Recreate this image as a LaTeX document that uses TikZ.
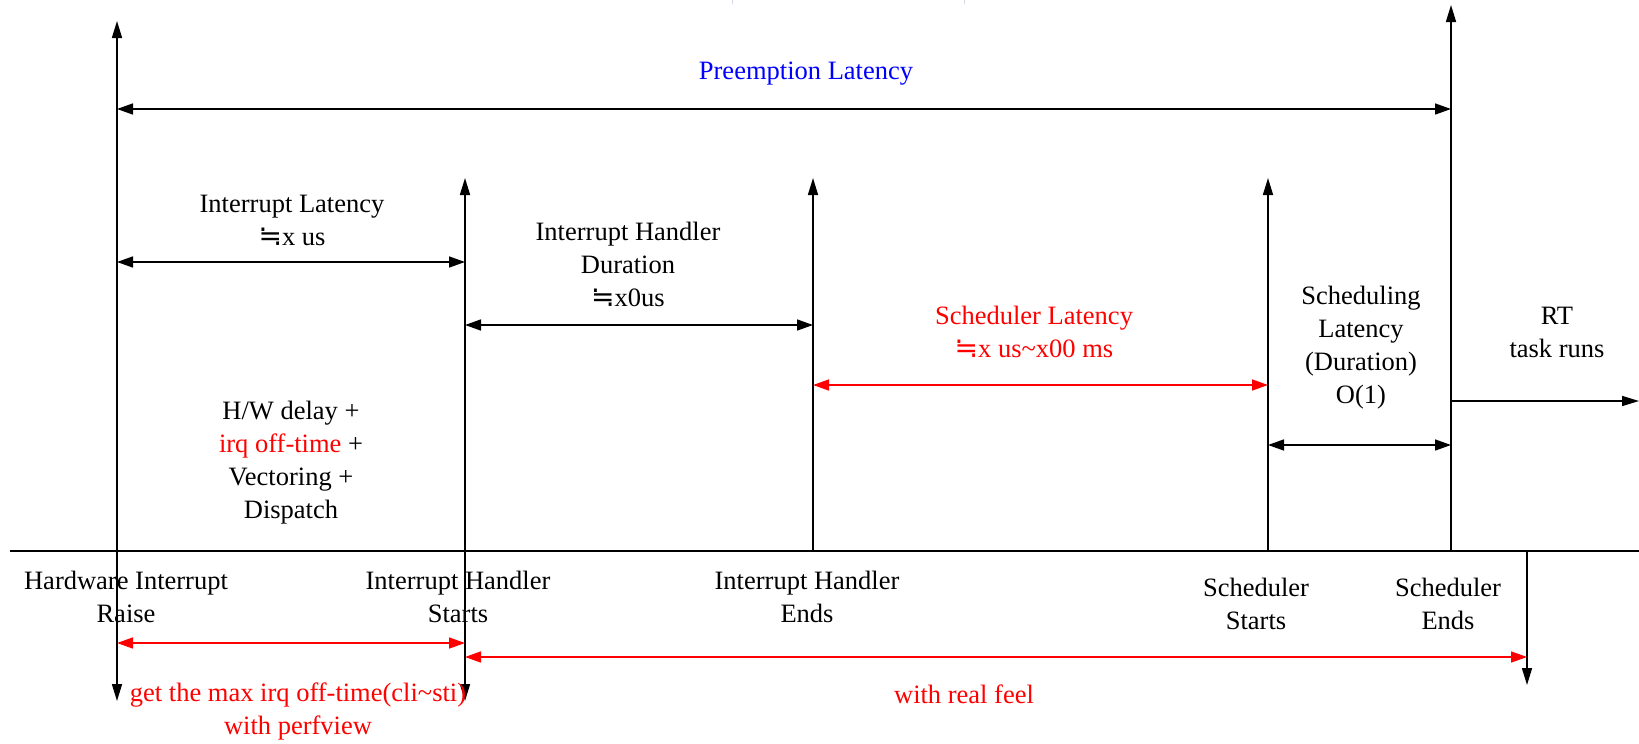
\documentclass[tikz,border=0pt]{standalone}
\usepackage{fontspec}
\setmainfont{Liberation Serif}
\newfontfamily\symfont{DejaVu Sans}
\usetikzlibrary{arrows.meta}
\definecolor{myred}{RGB}{255,0,0}
\definecolor{myblue}{RGB}{0,0,255}
\definecolor{faint}{RGB}{215,215,228}
\newcommand{\approxsym}{{\symfont\fontsize{28}{30}\selectfont ≒}}
\tikzset{
  axis/.style={line width=1.6pt,draw=black},
  upline/.style={line width=1.6pt,draw=black,-{Triangle[length=17pt,width=10pt]}},
  span/.style={line width=1.6pt,draw=black,{Triangle[length=16pt,width=11pt]}-{Triangle[length=16pt,width=11pt]}},
  redspan/.style={line width=1.6pt,draw=myred,{Triangle[length=16pt,width=11pt,fill=myred]}-{Triangle[length=16pt,width=11pt,fill=myred]}},
  lbl/.style={align=center,inner sep=0pt,font=\fontsize{26.5}{33}\selectfont},
}
\begin{document}
\begin{tikzpicture}[x=1pt,y=-1pt]
\useasboundingbox (0,0) rectangle (1639,744);
\fill[white] (0,0) rectangle (1639,744);
% faint marks at top
\draw[faint,line width=1pt] (732,0) -- (732,4);
\draw[faint,line width=1pt] (964,0) -- (964,4);
% coordinates
\coordinate (base0) at (10,551);
\coordinate (base1) at (1639,551);
\coordinate (l1t) at (117,21);
\coordinate (l1b) at (117,701);
\coordinate (l2t) at (465,178);
\coordinate (l2b) at (465,701);
\coordinate (l3t) at (813,178);
\coordinate (l3b) at (813,551);
\coordinate (l4t) at (1268,178);
\coordinate (l4b) at (1268,551);
\coordinate (l5t) at (1451,5);
\coordinate (l5b) at (1451,551);
\coordinate (l6t) at (1527,551);
\coordinate (l6b) at (1527,685);
% baseline
\draw[axis] (base0) -- (base1);
% vertical lines
\draw[line width=1.6pt,{Triangle[length=17pt,width=10pt]}-{Triangle[length=17pt,width=10pt]}] (l1b) -- (l1t);
\draw[line width=1.6pt,{Triangle[length=17pt,width=10pt]}-{Triangle[length=17pt,width=10pt]}] (l2b) -- (l2t);
\draw[upline] (l3b) -- (l3t);
\draw[upline] (l4b) -- (l4t);
\draw[upline] (l5b) -- (l5t);
\draw[upline] (l6t) -- (l6b);
% horizontal spans
\coordinate (pa) at (117,109); \coordinate (pb) at (1451,109);
\draw[span] (pa) -- (pb);
\coordinate (ila) at (117,262); \coordinate (ilb) at (465,262);
\draw[span] (ila) -- (ilb);
\coordinate (iha) at (465,325); \coordinate (ihb) at (813,325);
\draw[span] (iha) -- (ihb);
\coordinate (sla) at (813,385); \coordinate (slb) at (1268,385);
\draw[redspan] (sla) -- (slb);
\coordinate (sca) at (1268,445); \coordinate (scb) at (1451,445);
\draw[span] (sca) -- (scb);
\coordinate (rta) at (1451,401); \coordinate (rtb) at (1639,401);
\draw[upline] (rta) -- (rtb);
\coordinate (r1a) at (117,643); \coordinate (r1b) at (465,643);
\draw[redspan] (r1a) -- (r1b);
\coordinate (r2a) at (465,657); \coordinate (r2b) at (1527,657);
\draw[redspan] (r2a) -- (r2b);
% labels
\node[lbl,text=myblue] (tpre) at (806,74) {Preemption Latency};
\node[lbl] (til) at (292,220) {Interrupt Latency\\\approxsym x us};
\node[lbl] (tihd) at (628,264) {Interrupt Handler\\Duration\\\approxsym x0us};
\node[lbl,text=myred] (tsl) at (1034,332) {Scheduler Latency\\\approxsym x us\textasciitilde x00 ms};
\node[lbl] (tsch) at (1361,348) {Scheduling\\Latency\\(Duration)\\O(1)};
\node[lbl] (trt) at (1557,332) {RT\\task runs};
\node[lbl] (thw) at (291,463) {H/W delay +\\\textcolor{myred}{irq off-time} +\\Vectoring +\\Dispatch};
\node[lbl] (thir) at (126,597) {Hardware Interrupt\\Raise};
\node[lbl] (tihs) at (458,597) {Interrupt Handler\\Starts};
\node[lbl] (tihe) at (807,597) {Interrupt Handler\\Ends};
\node[lbl] (tss) at (1256,604) {Scheduler\\Starts};
\node[lbl] (tse) at (1448,604) {Scheduler\\Ends};
\node[lbl,text=myred] (tget) at (298,711) {get the max irq off-time(cli\textasciitilde sti)\\with perfview};
\node[lbl,text=myred] (treal) at (964,694) {with real feel};
\end{tikzpicture}
\end{document}
